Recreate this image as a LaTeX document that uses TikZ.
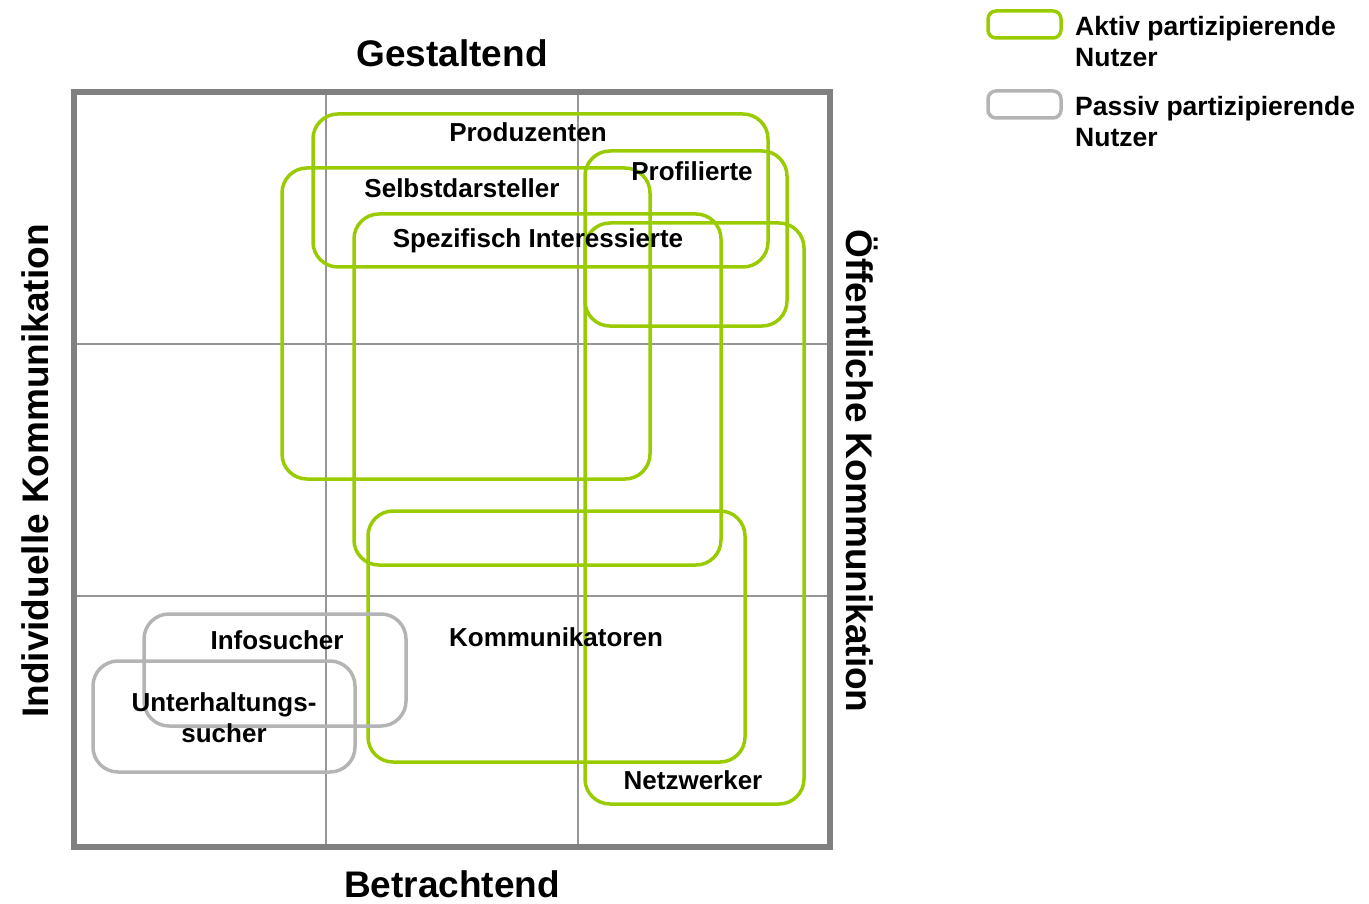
\documentclass[tikz,border=0pt]{standalone}
\usepackage{fontspec}
\setmainfont{Liberation Sans}
\definecolor{grn}{RGB}{153,204,0}
\definecolor{gry}{RGB}{180,180,180}
\definecolor{frame}{RGB}{128,128,128}
\definecolor{grid}{RGB}{150,150,150}
\begin{document}
\begin{tikzpicture}[x=1pt,y=-1pt,
  actbox/.style={draw=grn,line width=3.5pt,rounded corners=25pt},
  pasbox/.style={draw=gry,line width=3.5pt,rounded corners=25pt},
  lbl/.style={font=\fontsize{26}{31}\selectfont\bfseries,inner sep=0pt},
  ttl/.style={font=\fontsize{37}{42}\selectfont\bfseries,inner sep=0pt},
  leg/.style={font=\fontsize{26.5}{31}\selectfont\bfseries,inner sep=0pt,align=left,anchor=west}]
\useasboundingbox (0,0) rectangle (1369,904);
% grid
\draw[grid,line width=1.5pt] (326,92) -- (326,847) (578,92) -- (578,847)
  (74,344) -- (830,344) (74,596) -- (830,596);
% boxes
\draw[actbox] (313,114) rectangle (768,267);
\draw[actbox] (585,151) rectangle (787,326);
\draw[actbox] (282,168) rectangle (650,479);
\draw[actbox] (354,214) rectangle (721,565);
\draw[actbox] (585,223) rectangle (804,804);
\draw[actbox] (368,511) rectangle (745,762);
\draw[pasbox] (144,614) rectangle (406,726);
\draw[pasbox] (93,661) rectangle (355,772);
% frame
\draw[frame,line width=5.5pt] (74,92) rectangle (830,847);
% labels
\node[lbl] (produzenten) at (528,132) {Produzenten};
\node[lbl] (profilierte) at (692,171) {Profilierte};
\node[lbl] (selbst) at (462,188) {Selbstdarsteller};
\node[lbl] (spez) at (538,241) {Spezifisch Interessierte};
\node[lbl] (komm) at (556,637) {Kommunikatoren};
\node[lbl] (netz) at (693,780) {Netzwerker};
\node[lbl] (info) at (277,640) {Infosucher};
\node[lbl,align=center] (unter) at (224,718) {Unterhaltungs-\\sucher};
% titles
\node[ttl] (gest) at (452,53) {Gestaltend};
\node[ttl] (betr) at (452,884) {Betrachtend};
\node[ttl,rotate=90] (indiv) at (35,471) {Individuelle Kommunikation};
\node[ttl,rotate=-90] (oeff) at (862,471) {Öffentliche Kommunikation};
% legend
\draw[draw=grn,line width=3.5pt,rounded corners=8pt] (988,11) rectangle (1061,38);
\draw[draw=gry,line width=3.5pt,rounded corners=8pt] (988,91) rectangle (1061,118);
\node[leg] (leg1) at (1075,42) {Aktiv partizipierende\\Nutzer};
\node[leg] (leg2) at (1075,122) {Passiv partizipierende\\Nutzer};
\end{tikzpicture}
\end{document}
